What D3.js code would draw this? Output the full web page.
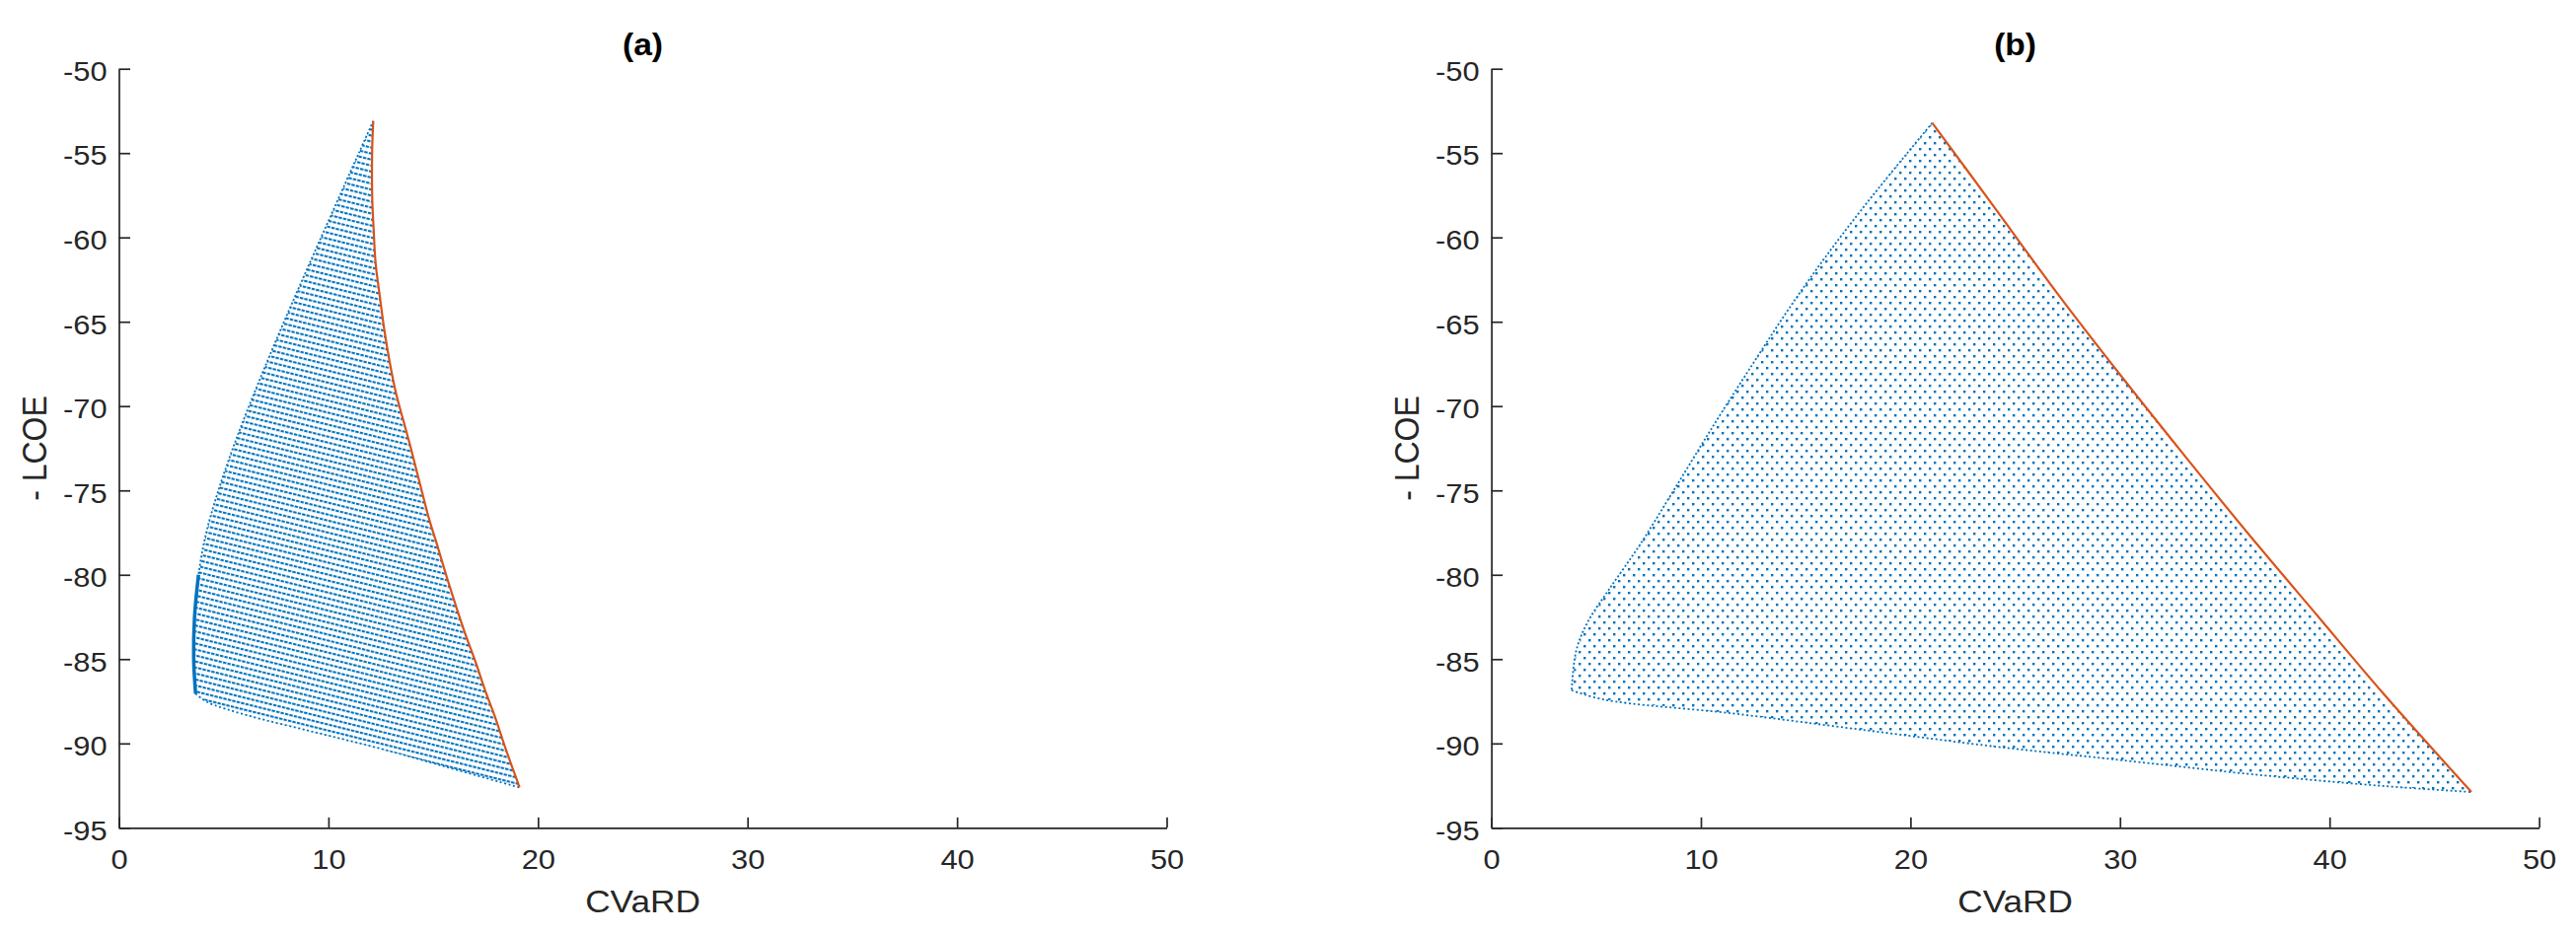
<!DOCTYPE html>
<html>
<head>
<meta charset="utf-8">
<script src="https://cdn.jsdelivr.net/npm/d3@7"></script>
<style>
  body { margin: 0; background: #fff; }
  text { font-family: "Liberation Sans", Arial, Helvetica, sans-serif; fill: #262626; }
</style>
</head>
<body>
<svg id="chart"></svg>
<script>
// axis ticks, shared by both panels
const xTicks = [0, 10, 20, 30, 40, 50];
const yTicks = [-95, -90, -85, -80, -75, -70, -65, -60, -55, -50];
const panelTitles = ["(a)", "(b)"];
const xLabel = "CVaRD";
const yLabel = "- LCOE";

// panel (a): [CVaRD, -LCOE]
const frontierA = [[12.14, -53.10], [12.09, -54.70], [12.09, -57.63], [12.16, -59.57], [12.25, -61.52],
    [12.45, -63.47], [12.66, -65.42], [12.92, -67.37], [13.24, -69.32], [13.58, -70.88], [13.92, -72.43],
    [14.40, -74.77], [14.81, -76.72], [15.20, -78.28], [15.67, -80.23], [16.12, -81.99], [16.54, -83.54],
    [17.00, -85.10], [17.48, -86.86], [17.95, -88.42], [18.42, -90.18], [18.81, -91.54], [19.12, -92.61]];
const leftEdgeA = [[12.14, -53.10], [11.45, -55.00], [10.55, -57.50], [9.65, -60.00], [8.76, -62.50],
    [7.88, -65.00], [7.03, -67.50], [6.21, -70.00], [5.44, -72.50], [4.75, -75.00], [4.17, -77.50],
    [3.80, -80.00], [3.61, -82.50], [3.57, -85.00], [3.66, -87.05]];
const bottomEdgeA = [[3.66, -87.05], [4.21, -87.54], [6.10, -88.32], [9.24, -89.30], [12.37, -90.27],
    [15.51, -91.35], [19.12, -92.61]];

// panel (b)
const frontierB = [[21.04, -53.21], [23.95, -58.12], [27.04, -63.37], [30.14, -68.35], [33.24, -73.18],
    [36.33, -77.88], [39.43, -82.44], [42.53, -86.99], [46.77, -92.88]];
const leftEdgeB = [[21.04, -53.21], [19.75, -55.15], [18.05, -57.75], [16.25, -60.65], [14.35, -63.95],
    [12.45, -67.55], [10.55, -71.25], [8.75, -74.90], [7.10, -78.20], [5.60, -80.90], [4.60, -82.80],
    [4.05, -84.50], [3.83, -86.85]];
const bottomEdgeB = [[3.83, -86.85], [5.37, -87.40], [11.57, -88.23], [17.76, -89.20], [23.95, -90.17],
    [30.14, -91.00], [36.33, -91.83], [42.53, -92.52], [46.77, -92.88]];

const blue = "#0072BD",
    orange = "#D95319",
    axisColor = "#262626";

const width = 2611,
    height = 947;

const svg = d3.select("#chart")
    .attr("width", width)
    .attr("height", height);

svg.append("rect").attr("width", width).attr("height", height).attr("fill", "#fff");

const defs = svg.append("defs");

// dense striped dots of panel (a)
const patA = defs.append("pattern")
    .attr("id", "dotsA")
    .attr("patternUnits", "userSpaceOnUse")
    .attr("width", 4.6)
    .attr("height", 5.9)
    .attr("patternTransform", "rotate(14)");
patA.append("rect").attr("width", 3.4).attr("height", 2.1).attr("fill", blue);

// sparser lattice of panel (b)
const patB = defs.append("pattern")
    .attr("id", "dotsB")
    .attr("patternUnits", "userSpaceOnUse")
    .attr("width", 10)
    .attr("height", 12);
patB.append("rect").attr("x", 0).attr("y", 0).attr("width", 2.4).attr("height", 2.4).attr("fill", blue);
patB.append("rect").attr("x", 5).attr("y", 6).attr("width", 2.4).attr("height", 2.4).attr("fill", blue);

const plotTop = 69.7,
    plotBottom = 839.3,
    plotW = 1062;

function drawPanel(left, title, frontier, leftEdge, bottomEdge, patternId, denseEdge) {
    const x = d3.scaleLinear().domain([0, 50]).range([left, left + plotW]);
    const y = d3.scaleLinear().domain([-95, -50]).range([plotBottom, plotTop]);
    const smooth = d3.line().x(d => x(d[0])).y(d => y(d[1])).curve(d3.curveCatmullRom);

    const g = svg.append("g");

    // cloud of feasible portfolios: tip -> left edge -> bottom edge -> frontier back to tip
    const region = leftEdge.concat(bottomEdge.slice(1), frontier.slice().reverse().slice(1));

    g.append("path")
        .attr("d", d3.line().x(d => x(d[0])).y(d => y(d[1])).curve(d3.curveLinearClosed)(region))
        .attr("fill", `url(#${patternId})`)
        .attr("stroke", "none");

    // dotted outline so the edges read like the scatter border
    g.append("path")
        .attr("d", smooth(leftEdge))
        .attr("fill", "none")
        .attr("stroke", blue)
        .attr("stroke-width", 1.8)
        .attr("stroke-dasharray", "2 2.2");
    g.append("path")
        .attr("d", smooth(bottomEdge))
        .attr("fill", "none")
        .attr("stroke", blue)
        .attr("stroke-width", 1.8)
        .attr("stroke-dasharray", "2 2.6");

    // where the rows pile up against the left edge
    if (denseEdge) {
        g.append("path")
            .attr("d", smooth(leftEdge.filter(d => d[1] < -78)))
            .attr("fill", "none")
            .attr("stroke", blue)
            .attr("stroke-width", 3.5);
    }

    // efficient frontier
    g.append("path")
        .attr("d", smooth(frontier))
        .attr("fill", "none")
        .attr("stroke", orange)
        .attr("stroke-width", 2.2);

    // axes, matlab style: box off, ticks pointing inward
    const xAxis = g.append("g")
        .attr("transform", `translate(0,${plotBottom})`)
        .style("color", axisColor)
        .call(d3.axisBottom(x).tickValues(xTicks).tickFormat(d => String(d))
            .tickSizeInner(-10.5).tickSizeOuter(0));
    xAxis.selectAll(".tick text")
        .attr("y", 41.7)
        .attr("dy", 0)
        .attr("transform", "scale(1.1,1)")
        .style("font-size", "28px");

    const yAxis = g.append("g")
        .attr("transform", `translate(${left},0)`)
        .style("color", axisColor)
        .call(d3.axisLeft(y).tickValues(yTicks).tickFormat(d => String(d))
            .tickSizeInner(-11.5).tickSizeOuter(0));
    yAxis.selectAll(".tick text")
        .attr("x", -10.9)
        .attr("dy", "0.42em")
        .attr("transform", "scale(1.1,1)")
        .style("font-size", "28px");

    g.selectAll(".domain, .tick line").attr("stroke-width", 1.7);

    g.append("text")
        .attr("transform", `translate(${left + plotW / 2},925) scale(1.1,1)`)
        .attr("text-anchor", "middle")
        .style("font-size", "32px")
        .text(xLabel);

    g.append("text")
        .attr("transform", `translate(${left - 73.5},${(plotTop + plotBottom) / 2}) scale(1.1,1) rotate(-90)`)
        .attr("text-anchor", "middle")
        .style("font-size", "32px")
        .text(yLabel);

    g.append("text")
        .attr("transform", `translate(${left + plotW / 2},56) scale(1.05,1)`)
        .attr("text-anchor", "middle")
        .style("font-size", "32px")
        .style("font-weight", "bold")
        .style("fill", "#000")
        .text(title);
}

drawPanel(120.5, panelTitles[0], frontierA, leftEdgeA, bottomEdgeA, "dotsA", true);
drawPanel(1511.6, panelTitles[1], frontierB, leftEdgeB, bottomEdgeB, "dotsB", false);
</script>
</body>
</html>
